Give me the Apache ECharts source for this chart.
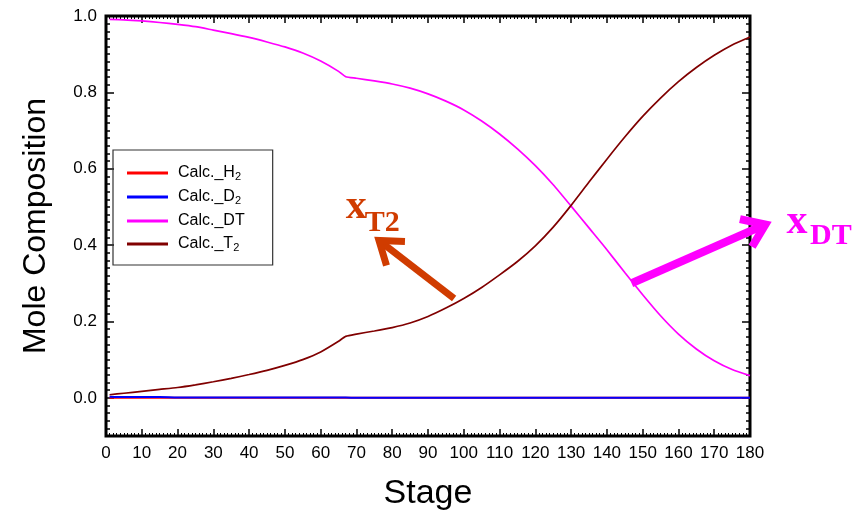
<!DOCTYPE html>
<html>
<head>
<meta charset="utf-8">
<script src="https://cdn.jsdelivr.net/npm/echarts@6/dist/echarts.min.js"></script>
<style>
html, body { margin: 0; padding: 0; background: #fff; }
#main { width: 863px; height: 514px; }
</style>
</head>
<body>
<div id="main"></div>
<script>
// stage numbers and mole fractions
var stages = [1, 5, 10, 15, 20, 25, 30, 35, 40, 45, 50, 55, 60, 65, 67, 70, 75, 80, 85, 90,
    95, 100, 105, 110, 115, 120, 125, 130, 135, 140, 145, 150, 155, 160, 165, 170, 175, 180];
var xH2 = [0, 0, 0, 0, 0, 0, 0, 0, 0, 0, 0, 0, 0, 0, 0, 0, 0, 0, 0, 0,
    0, 0, 0, 0, 0, 0, 0, 0, 0, 0, 0, 0, 0, 0, 0, 0, 0, 0];
var xD2 = [0.003, 0.002, 0.002, 0.002, 0.001, 0.001, 0.001, 0.001, 0.001, 0.001, 0.001, 0.001, 0.001, 0.001, 0.001, 0, 0, 0, 0, 0,
    0, 0, 0, 0, 0, 0, 0, 0, 0, 0, 0, 0, 0, 0, 0, 0, 0, 0];
var xDT = [0.991, 0.990, 0.987, 0.983, 0.978, 0.972, 0.963, 0.954, 0.944, 0.932, 0.919, 0.903, 0.882, 0.855, 0.841, 0.837,
    0.830, 0.822, 0.811, 0.796, 0.777, 0.754, 0.725, 0.691, 0.652, 0.608, 0.558, 0.502, 0.445, 0.388, 0.328, 0.270,
    0.215, 0.167, 0.128, 0.097, 0.074, 0.058];
var xT2 = [0.008, 0.012, 0.017, 0.022, 0.027, 0.034, 0.042, 0.051, 0.061, 0.072, 0.085, 0.100, 0.120, 0.148, 0.161, 0.167,
    0.175, 0.184, 0.196, 0.213, 0.235, 0.260, 0.289, 0.322, 0.357, 0.398, 0.447, 0.504, 0.565, 0.625, 0.683, 0.737,
    0.785, 0.828, 0.865, 0.897, 0.924, 0.945];
var names = ['Calc._H2', 'Calc._D2', 'Calc._DT', 'Calc._T2'];
var colors = ['#ff0000', '#0000ff', '#ff00ff', '#800000'];

// annotation arrows (stage, mole fraction)
var arrowT2 = [[97.3, 0.26], [76.3, 0.412]];
var arrowDT = [[146.9, 0.30], [184.3, 0.454]];

function pairs(ys) {
    var out = [];
    for (var i = 0; i < stages.length; i++) out.push([stages[i], ys[i]]);
    return out;
}

var myChart = echarts.init(document.getElementById('main'));
var font = 'Liberation Sans, Arial, sans-serif';
var serif = 'Liberation Serif, Times New Roman, serif';

function yAx(pos, labels, minor) {
    var a = {
        type: 'value', position: pos, min: -0.1, max: 1.0,
        axisLine: { show: false, onZero: false }, splitLine: { show: false },
        axisTick: { show: true, inside: true, length: minor ? 4 : 8, lineStyle: { color: '#000', width: 1.5 } },
        axisLabel: { show: labels, fontSize: 17, color: '#000', fontFamily: font, margin: 9,
            formatter: function (v) {
                if (v < -1e-9) return '';
                return Math.abs(v) < 1e-9 ? '0.0' : v.toFixed(1);
            } }
    };
    if (minor) a.interval = 0.02;
    if (labels) {
        a.name = 'Mole Composition';
        a.nameLocation = 'middle';
        a.nameGap = 54;
        a.nameTextStyle = { fontSize: 32, color: '#000', fontFamily: font };
    }
    return a;
}

function xAx(pos, labels) {
    var a = {
        type: 'value', position: pos, min: 0, max: 180, interval: 10,
        axisLine: { show: false, onZero: false }, splitLine: { show: false },
        axisTick: { show: true, inside: true, length: 7, lineStyle: { color: '#000', width: 1.5 } },
        minorTick: { show: true, splitNumber: 10, length: 3, lineStyle: { color: '#000', width: 1 } },
        minorSplitLine: { show: false },
        axisLabel: { show: labels, fontSize: 17, color: '#000', fontFamily: font, margin: 9 }
    };
    if (labels) {
        a.name = 'Stage';
        a.nameLocation = 'middle';
        a.nameGap = 41;
        a.nameTextStyle = { fontSize: 34, color: '#000', fontFamily: font };
    }
    return a;
}

var series = [];
[xH2, xD2, xDT, xT2].forEach(function (ys, i) {
    series.push({
        name: names[i], type: 'line', data: pairs(ys),
        xAxisIndex: 0, yAxisIndex: 0,
        showSymbol: false, symbol: 'none',
        smooth: 0.2,
        lineStyle: { color: colors[i], width: i < 2 ? 2 : 1.7 },
        itemStyle: { color: colors[i] },
        silent: true
    });
});

var option = {
    animation: false,
    grid: { left: 106, right: 113, top: 16, bottom: 78, show: true, borderColor: '#000', borderWidth: 3,
        outerBoundsMode: 'none', containLabel: false },
    xAxis: [xAx('bottom', true), xAx('top', false)],
    yAxis: [yAx('left', true, false), yAx('left', false, true), yAx('right', false, false), yAx('right', false, true)],
    legend: {
        orient: 'vertical', left: 113, top: 150,
        padding: [15, 28, 12, 14], itemGap: 7,
        itemWidth: 41, itemHeight: 3, icon: 'rect',
        borderColor: '#333', borderWidth: 1.2,
        data: names,
        formatter: function (n) {
            var m = n.match(/^(.*?)(\d)$/);
            if (m) return '{a|' + m[1] + '}{s|' + m[2] + '}';
            return '{a|' + n + '}';
        },
        textStyle: {
            rich: {
                a: { fontSize: 16, color: '#000', fontFamily: font, lineHeight: 18, padding: [0, 0, 0, 5] },
                s: { fontSize: 11, color: '#000', fontFamily: font, verticalAlign: 'bottom', lineHeight: 10 }
            }
        }
    },
    series: series
};
myChart.setOption(option);

function arrow(pts, color, width, armLen) {
    var tail = myChart.convertToPixel({ xAxisIndex: 0, yAxisIndex: 0 }, pts[0]);
    var tip = myChart.convertToPixel({ xAxisIndex: 0, yAxisIndex: 0 }, pts[1]);
    var ang = Math.atan2(tail[1] - tip[1], tail[0] - tip[0]);
    var a1 = [tip[0] + armLen * Math.cos(ang + 0.62), tip[1] + armLen * Math.sin(ang + 0.62)];
    var a2 = [tip[0] + armLen * Math.cos(ang - 0.62), tip[1] + armLen * Math.sin(ang - 0.62)];
    return [
        { type: 'polyline', shape: { points: [tail, tip] }, style: { stroke: color, lineWidth: width, fill: null }, z: 50 },
        { type: 'polyline', shape: { points: [a1, tip, a2] }, style: { stroke: color, lineWidth: width, fill: null, lineJoin: 'miter' }, z: 50 }
    ];
}

function label(pt, txt, size, color) {
    var p = myChart.convertToPixel({ xAxisIndex: 0, yAxisIndex: 0 }, pt);
    return {
        type: 'text', x: p[0], y: p[1] - 0.34 * size, z: 50,
        style: { text: txt, fill: color, font: 'bold ' + size + 'px ' + serif, align: 'left', verticalAlign: 'middle' }
    };
}

var els = [];
els = els.concat(arrow(arrowT2, '#d03c00', 7, 26));
els = els.concat(arrow(arrowDT, '#ff00ff', 8, 26));
els.push(label([67.0, 0.462], 'x', 42, '#d03c00'));
els.push(label([72.3, 0.430], 'T2', 30, '#d03c00'));
els.push(label([190.2, 0.422], 'x', 42, '#ff00ff'));
els.push(label([196.8, 0.396], 'DT', 30, '#ff00ff'));
myChart.setOption({ graphic: { elements: els } });
</script>
</body>
</html>
